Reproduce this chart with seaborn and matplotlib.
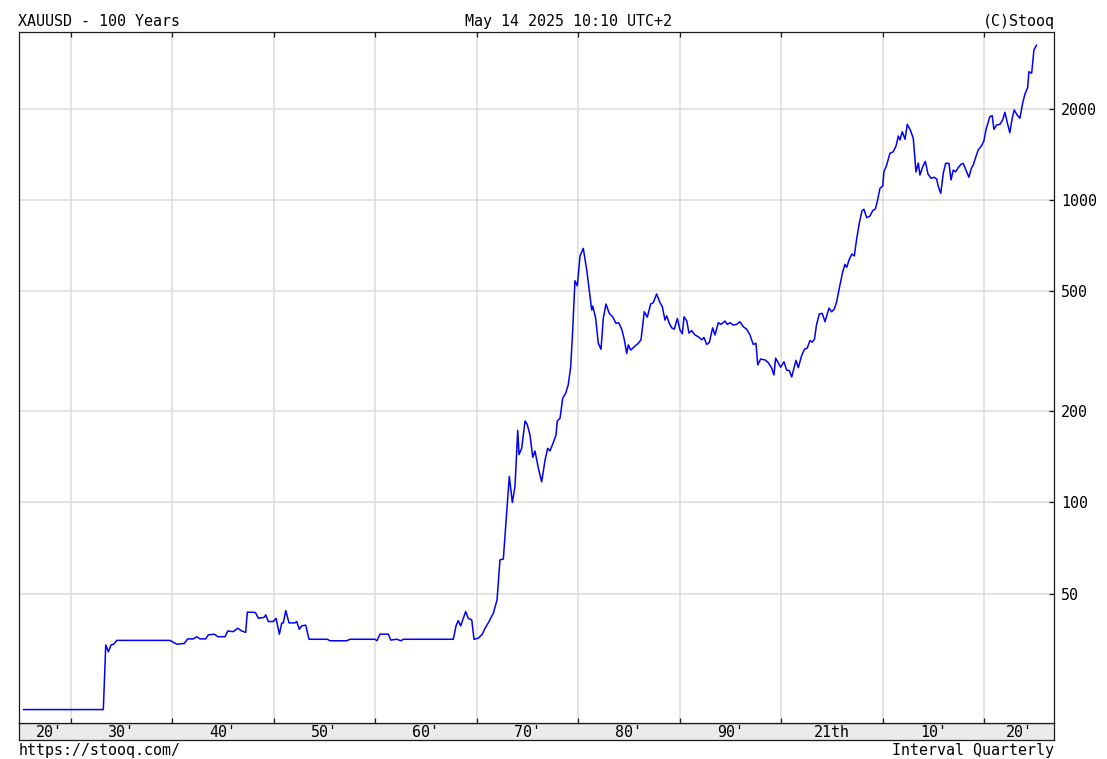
import matplotlib
matplotlib.use("Agg")
import matplotlib.pyplot as plt
import seaborn as sns
from matplotlib.ticker import NullLocator

# quarterly closes (year, USD/oz)
years_gold_std = [1925.33, 1933.21, 1933.45, 1933.71, 1933.97, 1934.24, 1934.53, 1939.78,
                  1940.45, 1941.19, 1941.53, 1942.08, 1942.42, 1942.74, 1943.30, 1943.56,
                  1944.15, 1944.49, 1945.21, 1945.47, 1946.02, 1946.46, 1946.85, 1947.24,
                  1947.40, 1948.20, 1948.49, 1949.05, 1949.22, 1949.47, 1949.96, 1950.23,
                  1950.56, 1950.79, 1950.95, 1951.19, 1951.51, 1952.10, 1952.27, 1952.53,
                  1952.76, 1953.16, 1953.48, 1955.29, 1955.55, 1957.20, 1957.52, 1959.99,
                  1960.18, 1960.48, 1961.30, 1961.53, 1962.12, 1962.55, 1962.77, 1967.70,
                  1967.97, 1968.19, 1968.43, 1968.92, 1969.18, 1969.52, 1969.74, 1970.17,
                  1970.56, 1970.83, 1971.15, 1971.64, 1972.01]
price_gold_std = [20.67, 20.67, 33.8, 32.1, 33.8, 34.0, 35.0, 35.0,
                  34.0, 34.2, 35.4, 35.4, 36.0, 35.4, 35.4, 36.5,
                  36.7, 36.0, 36.0, 37.6, 37.4, 38.4, 37.6, 37.2,
                  43.4, 43.3, 41.4, 41.7, 42.5, 40.4, 40.4, 41.4,
                  36.7, 39.9, 40.0, 43.9, 40.0, 40.0, 40.4, 38.1,
                  39.1, 39.3, 35.3, 35.3, 34.9, 34.9, 35.3, 35.3,
                  34.9, 36.7, 36.7, 35.1, 35.3, 34.9, 35.3, 35.3,
                  39.1, 40.7, 39.1, 43.6, 41.4, 40.9, 35.3, 35.6,
                  36.7, 38.4, 40.0, 43.0, 47.6]

years_float = [1972.30, 1972.63, 1972.96, 1973.22, 1973.52, 1973.78, 1974.05, 1974.18,
               1974.44, 1974.77, 1974.99, 1975.26, 1975.53, 1975.75, 1976.08, 1976.41,
               1976.74, 1977.00, 1977.23, 1977.56, 1977.82, 1977.95, 1978.22, 1978.48,
               1978.78, 1979.03, 1979.27, 1979.47, 1979.69, 1979.92, 1980.19, 1980.51,
               1980.85, 1981.10, 1981.34, 1981.44, 1981.73, 1981.99, 1982.26, 1982.48,
               1982.75, 1983.07, 1983.41, 1983.73, 1984.00, 1984.30, 1984.55, 1984.79,
               1984.95, 1985.18, 1985.61, 1985.93, 1986.20, 1986.52, 1986.82, 1987.15,
               1987.41, 1987.74, 1988.07, 1988.30, 1988.56, 1988.73, 1988.99, 1989.22,
               1989.48, 1989.78, 1990.04, 1990.27, 1990.44, 1990.70, 1990.93, 1991.19,
               1991.52, 1991.85, 1992.18, 1992.41, 1992.67, 1992.93, 1993.26, 1993.49,
               1993.82, 1994.08, 1994.48, 1994.70, 1994.97, 1995.29, 1995.63, 1995.95,
               1996.28, 1996.61, 1996.94, 1997.26, 1997.53, 1997.70, 1997.99, 1998.42,
               1998.74, 1999.08, 1999.30, 1999.47, 1999.73, 1999.96]
price_float = [64.6, 65.0, 92.1, 122, 100, 113, 173, 144,
               151, 186, 181, 167, 141, 148, 130, 117,
               138, 151, 148, 158, 167, 186, 190, 221,
               230, 245, 281, 372, 541, 520, 653, 692,
               587, 504, 433, 446, 407, 336, 321, 406,
               453, 422, 411, 391, 393, 374, 346, 311,
               332, 319, 329, 336, 345, 427, 410, 453,
               458, 489, 458, 444, 401, 414, 391, 378,
               374, 406, 372, 361, 411, 399, 363, 370,
               358, 353, 345, 351, 333, 338, 378, 358,
               393, 388, 398, 388, 393, 386, 388, 396,
               381, 374, 358, 333, 336, 285, 298, 296,
               290, 278, 264, 300, 289, 280]

years_2000s = [2000.29, 2000.55, 2000.81, 2001.05, 2001.27, 2001.47, 2001.70, 2002.03,
               2002.31, 2002.58, 2002.85, 2003.08, 2003.30, 2003.49, 2003.77, 2004.06,
               2004.33, 2004.73, 2004.99, 2005.25, 2005.48, 2005.74, 2006.08, 2006.30,
               2006.47, 2006.73, 2006.99, 2007.22, 2007.46, 2007.71, 2007.98, 2008.17,
               2008.44, 2008.76, 2009.03, 2009.29, 2009.48, 2009.75, 2010.02, 2010.14,
               2010.41, 2010.73, 2011.06, 2011.33, 2011.56, 2011.72, 2011.95, 2012.22,
               2012.44, 2012.76, 2013.03, 2013.30, 2013.53, 2013.69, 2013.96, 2014.22,
               2014.48, 2014.78, 2015.07, 2015.34, 2015.50, 2015.74, 2015.99, 2016.22,
               2016.55, 2016.75, 2016.97, 2017.21, 2017.46, 2017.73, 2017.95, 2018.22,
               2018.51, 2018.78, 2018.94, 2019.20, 2019.43, 2019.76, 2019.99]
price_2000s = [292, 274, 273, 260, 278, 295, 279, 306,
               321, 324, 343, 339, 347, 386, 420, 422,
               396, 439, 427, 436, 461, 511, 579, 613,
               599, 637, 663, 653, 747, 838, 922, 932,
               874, 885, 922, 934, 987, 1093, 1112, 1240,
               1305, 1427, 1444, 1508, 1627, 1579, 1682, 1587,
               1779, 1697, 1600, 1238, 1325, 1209, 1288, 1342,
               1219, 1180, 1189, 1173, 1107, 1052, 1226, 1322,
               1322, 1165, 1256, 1240, 1279, 1312, 1322, 1256,
               1189, 1279, 1305, 1390, 1463, 1512, 1567]

years_2020s = [2020.19, 2020.41, 2020.58, 2020.81, 2020.98, 2021.24, 2021.57, 2021.84,
               2022.06, 2022.29, 2022.55, 2022.78, 2022.98, 2023.27, 2023.54, 2023.81,
               2024.03, 2024.30, 2024.43, 2024.70, 2024.92, 2025.19]
price_2020s = [1704, 1806, 1886, 1900, 1713, 1770, 1779, 1839,
               1950, 1806, 1669, 1863, 1984, 1910, 1863, 2088,
               2236, 2351, 2656, 2624, 3133, 3254]

years = years_gold_std + years_float + years_2000s + years_2020s
price = price_gold_std + price_float + price_2000s + price_2020s

decades = [1930, 1940, 1950, 1960, 1970, 1980, 1990, 2000, 2010, 2020]
label_years = [1927.9, 1935, 1945, 1955, 1965, 1975, 1985, 1995, 2005, 2015, 2023.45]
label_text = ["20'", "30'", "40'", "50'", "60'", "70'", "80'", "90'", "21th", "10'", "20'"]
price_ticks = [50, 100, 200, 500, 1000, 2000]

sns.set_theme(style="white")
plt.rcParams["font.family"] = ["DejaVu Sans Mono"]
plt.rcParams["text.color"] = "black"
plt.rcParams["xtick.color"] = "black"
plt.rcParams["ytick.color"] = "black"
FS = 10.8
W, H = 1107, 759

fig = plt.figure(figsize=(W / 100, H / 100), dpi=100)

# grey band carrying the decade labels
band = fig.add_axes([19 / W, 19 / H, 1035.3 / W, 16.7 / H])
band.set_facecolor("#ebebeb")
band.set_xticks([])
band.set_yticks([])
for s in band.spines.values():
    s.set_color("#1a1a1a")
    s.set_linewidth(0.9)

ax = fig.add_axes([19 / W, 35.7 / H, 1035.3 / W, 691.6 / H])
sns.lineplot(x=years, y=price, ax=ax, color="#0000ff", linewidth=1.1,
             estimator=None, sort=False)
ax.set_yscale("log")
ax.set_xlim(1924.9, 2026.93)
ax.set_ylim(18.62, 3601)

ax.set_xticks(decades)
ax.set_xticklabels([])
ax.set_xticks(label_years, label_text, minor=True)
ax.set_yticks(price_ticks, [str(p) for p in price_ticks])
ax.yaxis.set_minor_locator(NullLocator())
ax.set_xlabel("")
ax.set_ylabel("")

ax.tick_params(axis="x", which="major", direction="in", length=3.6, width=0.9,
               top=True, bottom=True, labelbottom=False, color="#1a1a1a")
ax.tick_params(axis="x", which="minor", length=0, pad=1.0, labelsize=FS,
               labelcolor="black")
ax.tick_params(axis="y", which="major", direction="in", length=3.6, width=0.9,
               left=False, right=True, labelleft=False, labelright=True,
               pad=4.7, labelsize=FS, color="#1a1a1a", labelcolor="black")
ax.grid(True, which="major", color="#dcdcdc", linewidth=1.1)
for s in ax.spines.values():
    s.set_color("#1a1a1a")
    s.set_linewidth(0.9)

fig.text(18.3 / W, 1 - 25.7 / H, "XAUUSD - 100 Years", fontsize=FS, va="baseline")
fig.text(568.5 / W, 1 - 25.7 / H, "May 14 2025 10:10 UTC+2", fontsize=FS,
         va="baseline", ha="center")
fig.text(1054.5 / W, 1 - 25.7 / H, "(C)Stooq", fontsize=FS, va="baseline", ha="right")
fig.text(18.3 / W, 4.3 / H, "https://stooq.com/", fontsize=FS, va="baseline")
fig.text(1054.5 / W, 4.3 / H, "Interval Quarterly", fontsize=FS, va="baseline", ha="right")

fig.savefig("out.png", dpi=100)
plt.close(fig)
